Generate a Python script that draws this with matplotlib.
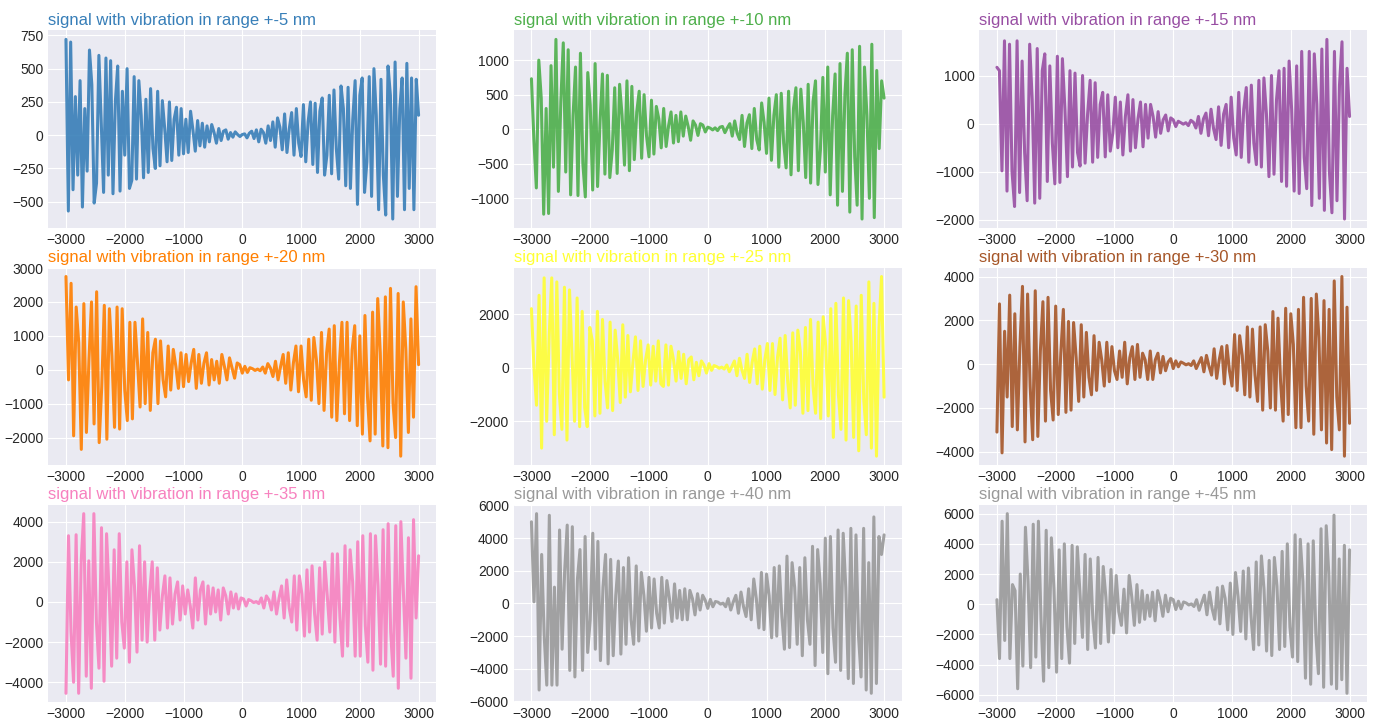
import numpy as np
import matplotlib
matplotlib.use("Agg")
import matplotlib.pyplot as plt

plt.style.use("seaborn-v0_8-darkgrid")
plt.rcParams["font.family"] = ["Liberation Sans", "DejaVu Sans"]

ranges = [5, 10, 15, 20, 25, 30, 35, 40, 45]

# values, one list per panel, left (-3000) to right (3000)
s5 = [720, -570, 700, -410, 290, -300, 410, -540, 200, -270,
      640, 380, -510, -360, 600, 100, -430, 580, -300, 560,
      -440, 250, 520, -420, 330, -150, 500, -400, -340, 440,
      -330, 410, 150, -320, 270, -280, 350, -100, -250, 330,
      -230, 260, 50, -200, 250, -190, 120, 210, -150, 200,
      -140, 120, -130, 180, 40, -120, 110, -80, 90, -90,
      70, -50, 80, 20, -60, 50, -40, 30, 40, -30,
      20, -15, 25, 5, -10, 5,
      10, -20, 15, 30, -25, 40, -50, 45, 20, -60,
      70, -40, 100, -90, 130, 60, -110, 160, -130, 50,
      170, -150, 200, -60, -160, 230, -200, 100, 250, -220,
      240, -280, 180, 280, -300, -150, 300, -290, 340, -100,
      -330, 370, 200, -380, 360, -400, 120, 410, -520, 300,
      430, -430, -200, 440, -460, 500, 150, -560, 420, -300,
      -600, 520, 300, -630, 550, -460, 200, 430, -560, 540,
      -400, 430, -560, 420, 150]
s10 = [730, -150, -850, 1000, 450, -1230, 300, -1220, 920, -550,
       1300, -900, 400, 1250, -620, 1150, -950, 200, 900, -960,
       1100, -500, -980, 820, 350, -880, 950, -830, 100, 800,
       -650, 780, -700, -300, 600, -640, 650, 200, -520, 700,
       -600, 620, -440, 250, 550, -420, 500, -100, -400, 420,
       -360, 330, 150, -270, 300, -250, 50, 250, -200, 200,
       -180, 250, -100, 190, 40, -160, 120, 60, -90, 80,
       60, -40, 30, 15, -10, 20,
       -20, 30, 40, -50, 20, 80, -100, 120, -60, -150,
       200, -250, 90, 210, -280, 300, -150, -300, 380, 100,
       -350, 450, -450, 200, 500, -550, 520, -200, -560, 550,
       -660, 300, 600, -600, 580, 100, -700, 650, -780, 400,
       700, -800, -300, 750, -620, 900, -950, 200, 800, -1100,
       950, -900, 500, 1100, -1200, 1150, -400, -1100, 1200, -1300,
       900, 200, -1000, 1230, -1280, 850, -280, 700, 450]
s15 = [1170, 1100, -980, 1720, -1400, 1650, -1000, -1720, 1720, -1430,
       1300, -600, -1600, 1650, 500, -1650, 1560, -1550, 1100, 1450,
       -1200, 1200, -400, -1250, 1400, -1220, 1350, 300, -1100, 1100,
       -900, 1050, -600, -880, 1000, -820, 200, 900, -800, 850,
       -700, 400, 650, -690, 600, -570, -200, 550, -500, 450,
       -650, 150, 600, -570, 500, -500, 100, 450, -480, 400,
       -300, 400, 150, -280, 250, -200, 80, 180, -150, 120,
       80, -60, 50, 20, -10, 20,
       -40, 70, 30, -90, 150, -200, 100, 220, -250, 300,
       -100, -330, 350, -450, 200, 400, -500, 550, -300, -650,
       650, -700, 300, 750, -800, 800, -400, -850, 900, -900,
       950, 200, -1100, 1000, -1050, 500, 1100, -1200, 1150, -1300,
       1300, 300, -1400, 1200, -1450, 1500, -700, -1350, 1500, -1700,
       1450, 400, -1550, 1550, -1800, 1750, -1000, -1850, 1500, -1600,
       800, 1700, -1980, 1150, 150]
s20 = [2750, -300, 2550, -1950, 1850, 800, -2350, 1950, -1850, 300,
       2000, -1600, 2300, -2150, -500, 1900, -2050, 1800, 400, -1700,
       1850, -1750, 1800, -600, -1500, 1400, -1450, 1400, 200, -1100,
       1500, -1000, 1100, -1200, 500, 900, -1000, 850, -300, -800,
       700, -600, 600, 100, -550, 500, -500, 450, -350, 200,
       600, -550, 450, -400, 200, 500, -450, 300, -300, 250,
       -400, 450, 100, -300, 350, 50, -250, 200, 150, -100,
       100, -80, 60, 30, -20, 20,
       -30, 80, -100, 180, 50, -200, 250, -300, 100, 450,
       -400, 500, -600, 200, 700, -650, 700, -300, -800, 900,
       -900, 950, 300, -1000, 1100, -1200, 500, 1200, -1400, 1300,
       -1500, 200, 1400, -1300, 1400, -1500, 600, 1300, -1650, 1000,
       -1900, 1600, -800, -2100, 1700, -1900, 2100, 500, -2250, 2150,
       -2300, 2400, -1000, -2000, 2250, -2550, 2000, 600, -1850, 1500,
       -1400, 2450, 150]
s25 = [2200, 0, -1400, 2700, -3000, 3350, -2000, 1200, 3350, -2500,
       3200, -1000, -2300, 3000, -2700, 2900, 500, -2000, 2600, -2200,
       2100, -1500, -2200, 1500, 1000, -1800, 2100, -1700, 1800, -500,
       -1500, 1700, -1600, 1400, 300, -1300, 1600, -1100, 1200, -900,
       200, 1150, -850, 1000, -700, 300, 850, -650, 800, -500,
       1000, -600, -700, 850, -650, 800, 300, -500, 600, -400,
       500, -600, 300, 400, -450, 200, -300, 250, 100, -200,
       150, -100, 80, 40, -20, 20,
       -50, 100, -150, 40, 250, -300, 350, -100, -400, 500,
       -550, 200, 700, -600, 800, -800, 300, 900, -850, 900,
       -1000, 400, 1100, -1200, 1200, -500, -1500, 1300, -1400, 1400,
       600, -1700, 1500, -1600, 1800, -700, -1700, 1700, -1900, 1900,
       800, -1800, 2200, -2600, 2400, -1000, -2300, 2600, -2700, 2500,
       1000, -2600, 2300, -3100, 2700, -1200, -2500, 3200, -3000, 2400,
       -3300, 1500, 3400, -1100]
s30 = [-3100, 2750, -4050, 1500, -1500, 3150, -2850, 2300, -3000, 800,
       3550, -3550, 3200, -1000, -3450, 3350, -3300, 600, 2850, -2600,
       3050, -1200, -2550, 2650, -2300, 500, 2500, -2200, 1950, -2100,
       1900, 300, -1700, 1800, -1500, 1450, -600, -1400, 1300, -1200,
       1000, 200, -1000, 1000, -800, 800, -300, -700, 600, -600,
       1000, -900, 300, 800, -700, 900, -600, 500, 200, -700,
       600, -700, 200, 500, -400, 350, -300, 100, 250, -200,
       150, -120, 100, 40, -30, 20,
       -60, 150, -200, 50, 300, -350, 400, -100, -500, 700,
       -650, 200, 800, -900, 850, -300, -1000, 1350, -1200, 1300,
       400, -1400, 1700, -1500, 1600, -500, -1700, 1700, -2100, 1800,
       600, -2000, 2400, -2100, 2100, -800, -2600, 2550, -2300, 2300,
       900, -2900, 2500, -2900, 3050, -1000, -2600, 3000, -3200, 3200,
       1200, -3000, 2900, -3600, 2500, -3900, 3800, -1500, -3000, 4000,
       -4200, 2600, -2700]
s35 = [-4550, 3300, -1500, -4000, 3350, -4550, 2000, 4400, -3700, 2050,
       -4300, 4400, -1000, -3300, 3700, -3950, 3400, 500, -3200, 2600,
       -2800, 3400, -1000, -2300, 2000, -3000, 2600, 800, -2500, 2800,
       -1900, 2000, -2000, 500, 2000, -1900, 1700, -1400, 300, 1300,
       -1300, 1200, -1100, 400, 1000, -900, 800, -600, 600, -200,
       -1300, 1200, -900, 600, 1000, -1100, 800, -600, 700, -500,
       600, -900, 700, 300, -600, 500, -300, 400, -350, 200,
       150, -200, 120, 60, -30, 20,
       -80, 200, -300, 300, 100, -400, 500, -600, 200, 800,
       -800, 1100, -300, -1000, 1300, -1400, 1300, 400, -1700, 1600,
       -1500, 1800, -600, -1900, 1700, -1600, 2000, 300, -1500, 2400,
       -2000, 2400, -800, -2700, 2800, -2200, 2600, 1000, -2700, 3000,
       -2700, 3300, -1200, -3000, 3400, -3400, 3300, 800, -3100, 3600,
       -3200, 3900, -1500, -3700, 3800, -4300, 4000, 500, -2800, 3200,
       -3800, 4100, -800, 2300]
s40 = [5000, 100, 5500, -5300, 3000, -2000, -5000, 5400, -5000, 1000,
       -5000, 4500, -2800, 2000, 4800, -4100, 4700, -4500, 1500, 3300,
       -4100, 4100, -3000, -1000, 4300, -2800, 3800, -3500, 1000, 3000,
       -3700, 2700, -3200, 500, 2600, -3100, 2200, -2500, 2800, -1000,
       -2500, 2300, -2300, 1900, 500, -1700, 1600, -1500, 1500, -600,
       -1500, 1600, -1200, 1400, 300, -1100, 1200, -900, 800, -1000,
       900, -1000, 800, 300, -700, 600, -400, 500, 200, -300,
       250, -200, 120, 80, -40, 20,
       -200, 300, -400, 100, 500, -600, 700, -200, -800, 900,
       -1000, 1500, 300, -1500, 1900, -1600, 1800, 500, -2100, 2200,
       -2000, 2300, -800, -2800, 2900, -2700, 2500, 1000, -2500, 2200,
       -3200, 2800, -1000, -2500, 3500, -3800, 3300, 1200, -3000, 4000,
       -4300, 4100, -1500, -3600, 4500, -4100, 4300, 1000, -4600, 4600,
       -4900, 4200, -2000, -4500, 4600, -5300, 2500, -5500, 5300, -4900,
       4100, 3000, 4200]
s45 = [300, -3600, 5500, -2400, 6000, -3600, 1300, 900, -5600, 2000,
       -4100, 5100, 1500, -4200, 5300, -3500, 5500, -1000, -5100, 4900,
       -4200, 4400, 1000, -4500, 3600, -3600, 4000, -1500, -3900, 3900,
       -2600, 3800, 800, -2200, 3300, -3000, 3000, -1000, -2900, 3100,
       -2600, 2500, 500, -2500, 2300, -1900, 1900, -500, -1400, 1000,
       -1900, 1900, 500, -1400, 1300, -1200, 900, -1000, 600, -800,
       800, -1100, 900, 200, -800, 600, -500, 400, 300, -350,
       200, -300, 150, 80, -50, 20,
       -150, 300, -400, 100, 600, -700, 800, -300, -1000, 1100,
       -1300, 1200, 400, -1700, 1400, -2000, 2100, 500, -1800, 2200,
       -2300, 2400, -800, -3000, 2800, -2700, 3200, 1000, -3100, 2900,
       -3400, 3100, 1200, -3000, 3500, -2800, 4000, -1500, -3500, 4600,
       -3800, 4300, 1500, -4900, 4000, -5300, 4200, -2000, -4600, 5000,
       -5500, 5200, 2000, -5300, 5900, -5600, 3000, -5000, 3900, -5900,
       3600]

signals = [s5, s10, s15, s20, s25, s30, s35, s40, s45]

palette = plt.get_cmap("Set1")

fig = plt.figure(figsize=(13.81, 7.24), dpi=100)
fig.subplots_adjust(left=0.035, right=0.99, top=0.958, bottom=0.03,
                    wspace=0.2, hspace=0.2)

num = 0
for rng, y in zip(ranges, signals):
    num += 1
    x = np.linspace(-3000, 3000, len(y))
    ax = fig.add_subplot(3, 3, num)
    ax.plot(x, y, color=palette(num), linewidth=2.2, alpha=0.9)
    ax.set_title("signal with vibration in range +-%d nm" % rng, loc="left",
                 fontsize=12, fontweight=0, color=palette(num), pad=4)
    ax.tick_params(labelsize=10)

fig.savefig("out.png", dpi=100)
